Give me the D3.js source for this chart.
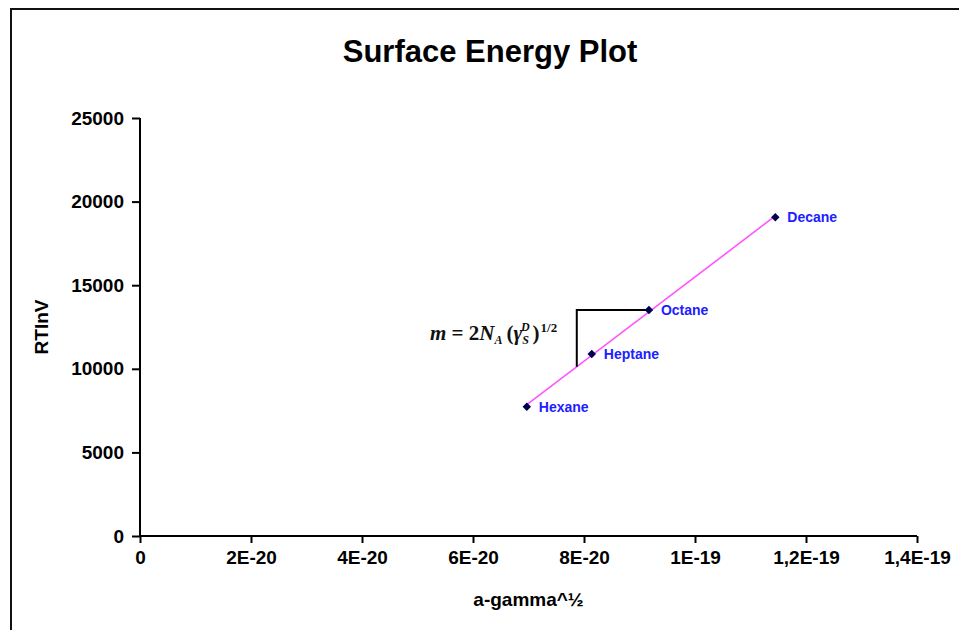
<!DOCTYPE html>
<html>
<head>
<meta charset="utf-8">
<script src="https://cdn.jsdelivr.net/npm/d3@7"></script>
<style>
  html, body { margin: 0; padding: 0; background: #fff; }
  svg { display: block; }
</style>
</head>
<body>
<svg id="chart" width="959" height="630"></svg>
<script>
// Solvent probes: x = a·(gamma_L^D)^½, y = RT ln V
const solvents = ["Hexane", "Heptane", "Octane", "Decane"];
const xValues  = [6.97e-20, 8.14e-20, 9.17e-20, 1.1447e-19];
const yValues  = [7730, 10890, 13520, 19060];

const xTicks = [0, 2e-20, 4e-20, 6e-20, 8e-20, 1e-19, 1.2e-19, 1.4e-19];
const xTickLabels = ["0", "2E-20", "4E-20", "6E-20", "8E-20", "1E-19", "1,2E-19", "1,4E-19"];
const yTicks = [0, 5000, 10000, 15000, 20000, 25000];

// x position of the slope bracket's vertical leg
const bracketX = [7.87e-20];

const W = 959, H = 630;
const margin = { left: 140, right: 42, top: 118, bottom: 94 };

const svg = d3.select("#chart");

// outer chart frame
svg.append("rect")
  .attr("x", 11).attr("y", 9)
  .attr("width", W + 20).attr("height", H + 20)
  .attr("fill", "none").attr("stroke", "#111").attr("stroke-width", 2);

const x = d3.scaleLinear().domain([0, 1.4e-19]).range([margin.left, W - margin.right]);
const y = d3.scaleLinear().domain([0, 25000]).range([H - margin.bottom, margin.top]);

const font = "'Liberation Sans', Arial, sans-serif";

// title
svg.append("text")
  .attr("x", 490).attr("y", 62)
  .attr("text-anchor", "middle")
  .attr("font-family", font).attr("font-weight", "bold").attr("font-size", 31)
  .text("Surface Energy Plot");

// axes
const xAxis = d3.axisBottom(x).tickValues(xTicks)
  .tickFormat((d, i) => xTickLabels[i]).tickSize(7).tickPadding(8);
const yAxis = d3.axisLeft(y).tickValues(yTicks)
  .tickFormat(d => String(d)).tickSize(8).tickPadding(8);

const gx = svg.append("g").attr("transform", `translate(0,${y(0)})`).call(xAxis);
const gy = svg.append("g").attr("transform", `translate(${x(0)},0)`).call(yAxis);

[gx, gy].forEach(g => {
  g.select(".domain").attr("stroke", "#000").attr("stroke-width", 2);
  g.selectAll(".tick line").attr("stroke", "#000").attr("stroke-width", 2);
  g.selectAll(".tick text")
    .attr("font-family", font).attr("font-weight", "bold")
    .attr("font-size", 19).attr("fill", "#000");
});
// the axis domain paths carry outer ticks; keep them flush
gx.select(".domain").attr("d", `M${x(0)},0H${x(1.4e-19)}`);
gy.select(".domain").attr("d", `M0,${y(25000)}V${y(0)}`);

// axis titles
svg.append("text")
  .attr("x", (x(0) + x(1.4e-19)) / 2).attr("y", 606)
  .attr("text-anchor", "middle")
  .attr("font-family", font).attr("font-weight", "bold").attr("font-size", 19)
  .text("a-gamma^½");

svg.append("text")
  .attr("transform", `translate(48,${(y(0) + y(25000)) / 2}) rotate(-90)`)
  .attr("text-anchor", "middle")
  .attr("font-family", font).attr("font-weight", "bold").attr("font-size", 19)
  .text("RTlnV");

// least-squares trend line across the data range
const mx = d3.mean(xValues), my = d3.mean(yValues);
const slope = d3.sum(xValues.map((v, i) => (v - mx) * (yValues[i] - my))) /
              d3.sum(xValues.map(v => (v - mx) * (v - mx)));
const icpt = my - slope * mx;
const fit = v => icpt + slope * v;
const xMin = d3.min(xValues), xMax = d3.max(xValues);

svg.append("line")
  .attr("x1", x(xMin)).attr("y1", y(fit(xMin)))
  .attr("x2", x(xMax)).attr("y2", y(fit(xMax)))
  .attr("stroke", "#ff55ff").attr("stroke-width", 1.6);

// slope bracket: from the trend line up to Octane's level, then across to Octane
const octIdx = solvents.indexOf("Octane");
svg.append("path")
  .attr("d", `M${x(bracketX[0])},${y(fit(bracketX[0]))}` +
             `V${y(yValues[octIdx])}H${x(xValues[octIdx])}`)
  .attr("fill", "none").attr("stroke", "#000").attr("stroke-width", 2);

// slope equation
const eq = svg.append("text")
  .attr("x", 430).attr("y", 340)
  .attr("font-family", "'Liberation Serif', 'Times New Roman', serif")
  .attr("font-size", 21).attr("font-weight", "bold").attr("fill", "#111");
eq.append("tspan").attr("font-style", "italic").text("m");
eq.append("tspan").text(" = 2");
eq.append("tspan").attr("font-style", "italic").text("N");
eq.append("tspan").attr("font-style", "italic").attr("font-size", 12).attr("dy", 4).text("A");
eq.append("tspan").attr("dy", -4).attr("dx", 4).text("(");
eq.append("tspan").attr("font-style", "italic").text("γ");
eq.append("tspan").attr("font-style", "italic").attr("font-size", 12).attr("dy", 4).text("S");
eq.append("tspan").attr("font-style", "italic").attr("font-size", 12).attr("dx", -8).attr("dy", -13).text("D");
eq.append("tspan").attr("dy", 9).attr("dx", 3).text(")");
eq.append("tspan").attr("font-size", 13).attr("dy", -8).attr("dx", 1).text("1/2");

// data points
const pts = svg.append("g");
pts.selectAll("path")
  .data(solvents)
  .join("path")
  .attr("transform", (d, i) => `translate(${x(xValues[i])},${y(yValues[i])}) rotate(45)`)
  .attr("d", d3.symbol(d3.symbolSquare, 36))
  .attr("fill", "#000050");

// point labels
pts.selectAll("text")
  .data(solvents)
  .join("text")
  .attr("x", (d, i) => x(xValues[i]) + 12)
  .attr("y", (d, i) => y(yValues[i]) + 5)
  .attr("font-family", font).attr("font-size", 14).attr("font-weight", 600)
  .attr("fill", "#2020ff")
  .text(d => d);
</script>
</body>
</html>
